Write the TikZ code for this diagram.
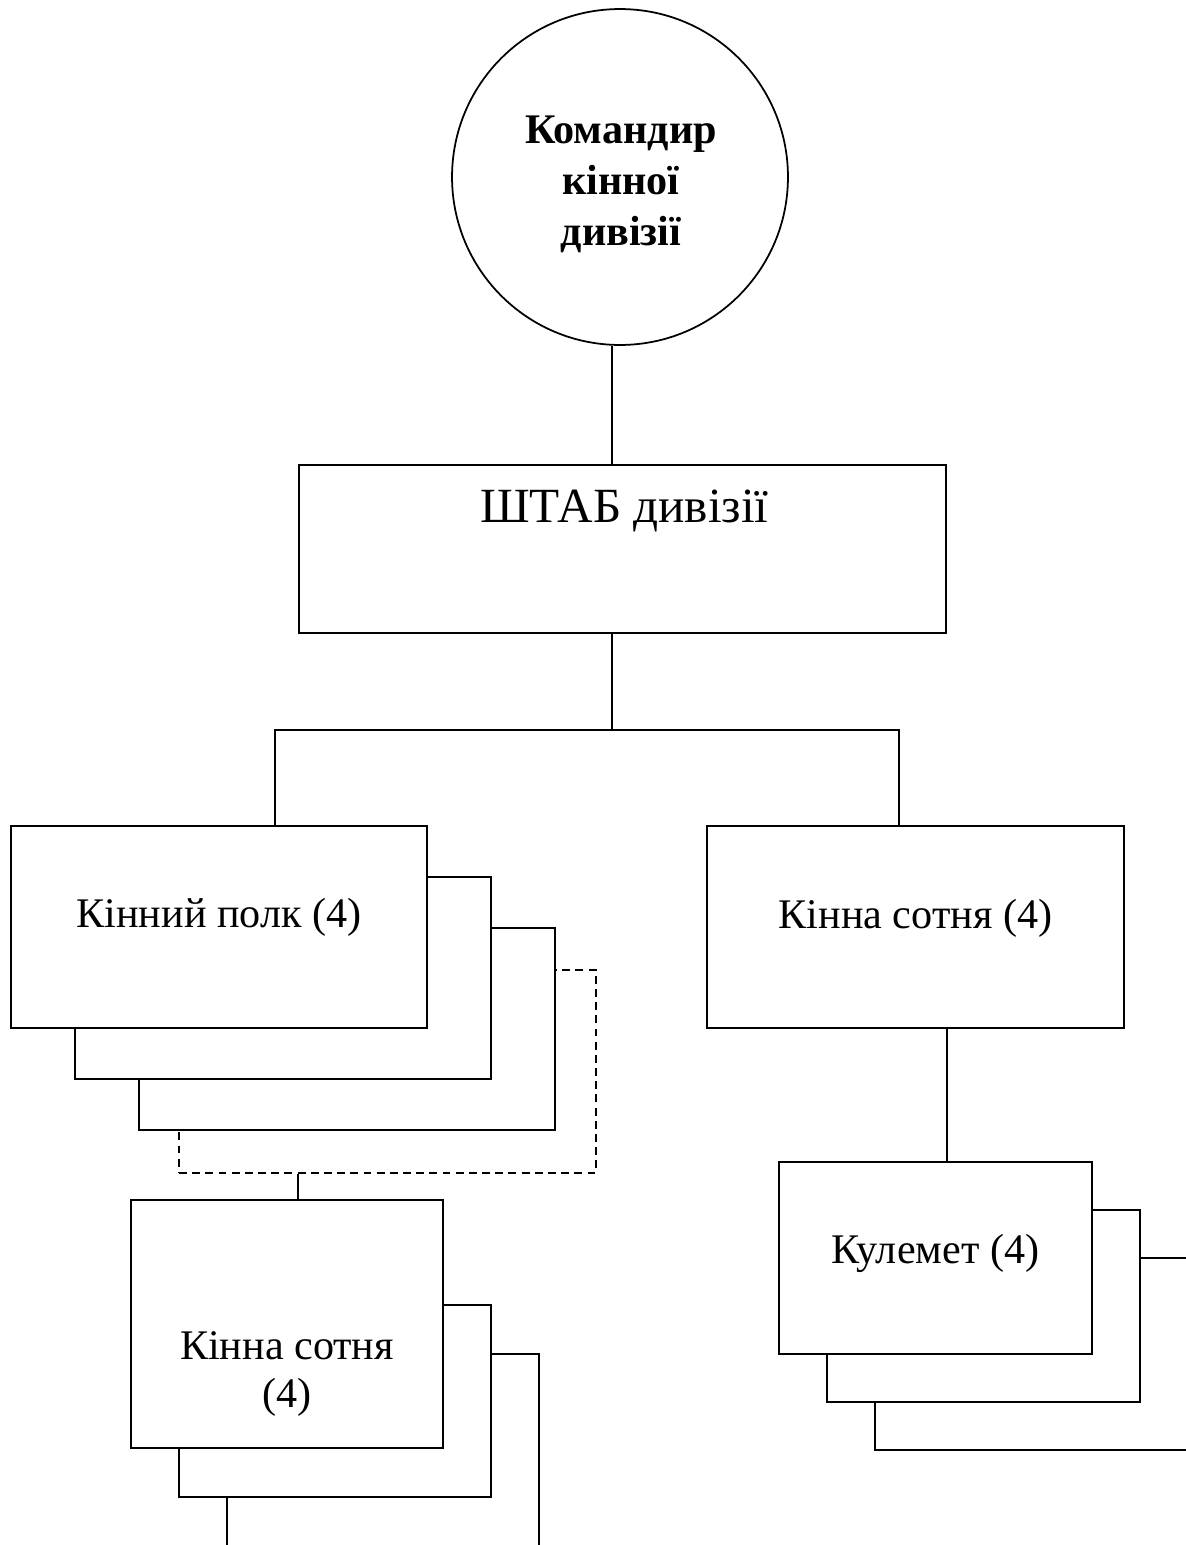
\documentclass[tikz,border=0pt]{standalone}
\usepackage{fontspec}
\setmainfont{Liberation Serif}
\usetikzlibrary{calc}
\tikzstyle{chief}=[circle,draw,line width=1pt,inner sep=0pt,minimum size=6.72cm]
\tikzstyle{unit}=[rectangle,draw,fill=white,line width=1pt,inner sep=0pt]
\tikzstyle{ghostunit}=[unit,dash pattern=on 4.5pt off 3pt]
\tikzstyle{link}=[draw,line width=1pt]
\tikzstyle{caption}=[inner sep=0pt,align=center,font=\fontsize{24}{27.8}\selectfont]

\begin{document}
\begin{tikzpicture}[x=0.02cm,y=-0.02cm]

    \clip (0,0) rectangle (1186,1545);

    % commander and staff
    \node[chief] (cmd) at (620,177) {};
    \node[caption,font=\bfseries\fontsize{24}{29}\selectfont] (cmd-t) at (621,184) {Командир\\кінної\\дивізії};
    \node[unit,minimum width=12.94cm,minimum height=3.36cm] (staff) at (622.5,549) {};
    \node[caption,anchor=base,font=\fontsize{28}{32}\selectfont] (staff-t) at (624.5,522) {ШТАБ дивізії};

    % regiments, back to front
    \node[ghostunit,minimum width=8.34cm,minimum height=4.06cm] (polk4) at (387.5,1071.5) {};
    \foreach \pos/ \name in {{(347,1029)/polk3},{(283,978)/polk2},{(219,927)/polk1}}
        \node[unit,minimum width=8.32cm,minimum height=4.04cm] (\name) at \pos {};
    \node[unit,minimum width=8.34cm,minimum height=4.04cm] (sotnia) at (915.5,927) {};

    % hundreds under the regiment
    \foreach \pos/ \name / \h in {{(383,1457)/sot3/4.12cm},{(335,1401)/sot2/3.84cm},{(287,1324)/sot1/4.96cm}}
        \node[unit,minimum width=6.24cm,minimum height=\h] (\name) at \pos {};

    % machine guns
    \foreach \pos/ \name / \w in {{(1037.5,1354)/kul3/6.5cm},{(983.5,1306)/kul2/6.26cm},{(935.5,1258)/kul1/6.26cm}}
        \node[unit,minimum width=\w,minimum height=3.84cm] (\name) at \pos {};

    \foreach \pos/ \name / \label in {{(219,927)/polk-t/Кінний полк (4)},{(915.5,928)/sotnia-t/Кінна сотня (4)},{(935.5,1263)/kul-t/Кулемет (4)}}
        \node[caption,anchor=base] (\name) at \pos {\label};
    \node[caption] (sot-t) at (287,1374) {Кінна сотня\\(4)};

    % connections
    \coordinate (hub) at (612,730);
    \coordinate (lbar) at (275,730);
    \coordinate (rbar) at (899,730);
    \coordinate (ldrop) at (298,1185);
    \coordinate (rdrop) at (947,1100);

    \path[link] (hub |- cmd.south) -- (hub |- staff.north);
    \path[link] (hub |- staff.south) -- (hub);
    \path[link] (lbar |- polk1.north) -- (lbar) -- (rbar) -- (rbar |- sotnia.north);
    \path[link] (ldrop |- polk4.south) -- (ldrop |- sot1.north);
    \path[link] (rdrop |- sotnia.south) -- (rdrop |- kul1.north);

\end{tikzpicture}
\end{document}
